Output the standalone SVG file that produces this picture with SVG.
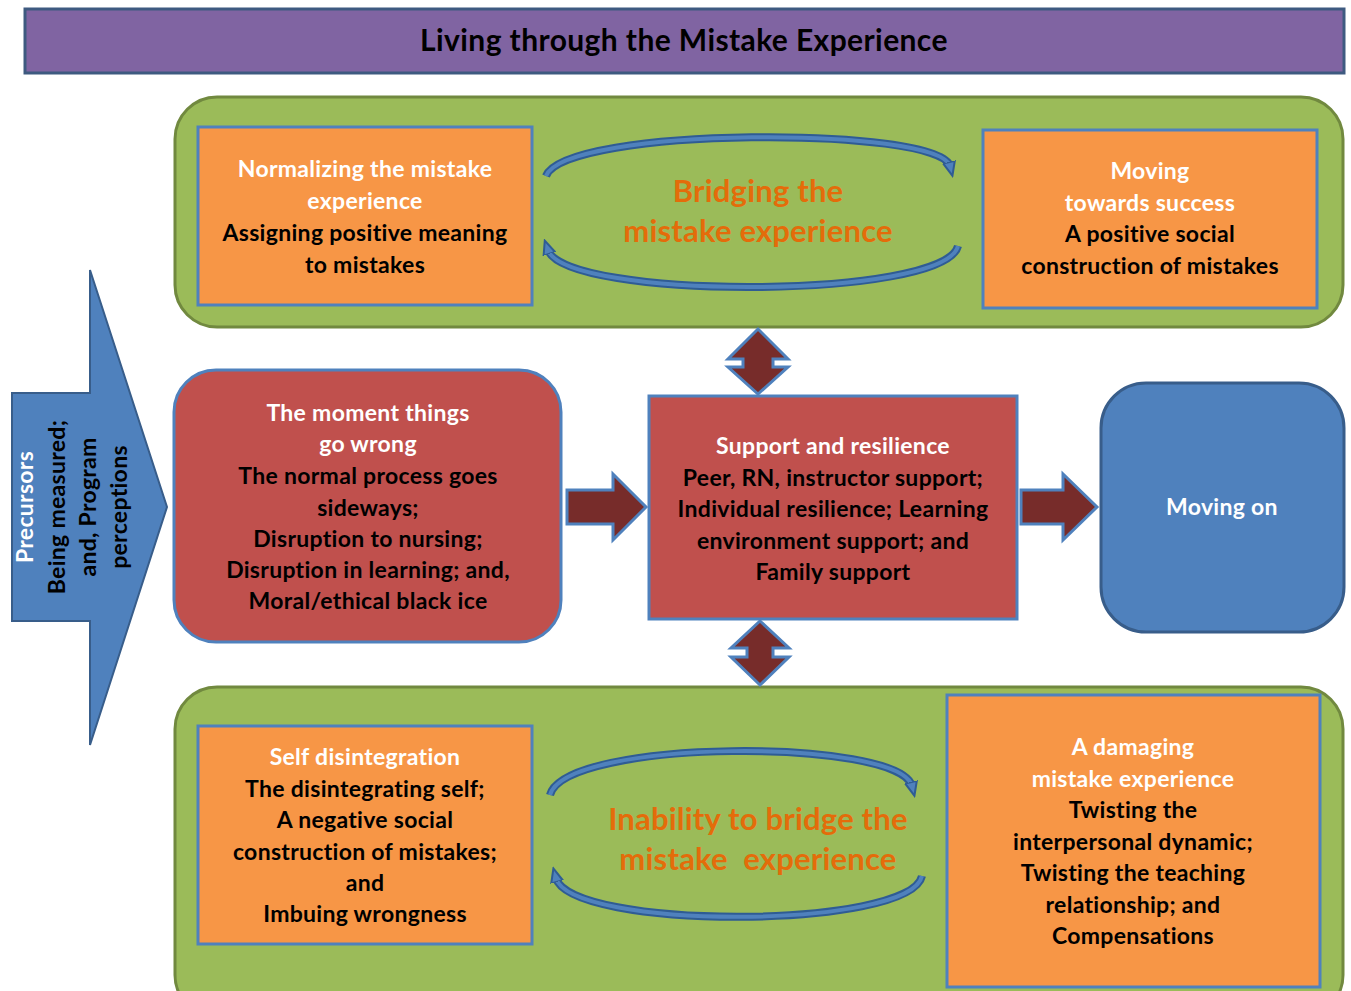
<svg xmlns="http://www.w3.org/2000/svg" width="1351" height="991" viewBox="0 0 1351 991">
  <style>
    .t { font-family: Lato, "Open Sans", "Liberation Sans", sans-serif; font-weight: 700; font-size: 23px; letter-spacing: 0.3px; text-anchor: middle; }
    .w { fill: #ffffff; }
    .k { fill: #000000; }
    .orange { fill: #E46C0A; font-size: 31px; letter-spacing: 0.2px; }
    .panel { fill: #9BBB59; stroke: #71893F; stroke-width: 3; }
    .obox { fill: #F79646; stroke: #4F81BD; stroke-width: 3; }
    .rbox { fill: #C0504D; stroke: #4F81BD; stroke-width: 3; }
    .darr { fill: #772C2A; stroke: #4F81BD; stroke-width: 3; stroke-linejoin: miter; }
    .arcOut { fill: none; stroke: #2F5C94; stroke-width: 8; stroke-linecap: butt; }
    .arcIn { fill: none; stroke: #4F81BD; stroke-width: 4; stroke-linecap: butt; }
  </style>
  <defs>
    <marker id="head" markerUnits="userSpaceOnUse" viewBox="0 0 16 16" refX="4" refY="8" markerWidth="16" markerHeight="16" orient="auto-start-reverse">
      <path d="M0 2 L14 8 L0 14 Z" fill="#4F81BD" stroke="#2F5C94" stroke-width="2"/>
    </marker>
  </defs>

  <!-- title bar -->
  <g id="title">
    <rect x="25" y="9" width="1319" height="64" fill="#8064A2" stroke="#3E5A80" stroke-width="3"/>
    <text x="684" y="51" class="t k" style="font-size:30px;letter-spacing:0.4px">Living through the Mistake Experience</text>
  </g>

  <!-- top band: bridging -->
  <g id="bridging-panel">
    <rect x="175" y="97" width="1168" height="230" rx="42" class="panel"/>
  </g>

  <g id="normalizing">
    <rect x="198" y="127" width="334" height="178" class="obox"/>
    <text class="t w" x="365" y="177">Normalizing the mistake</text>
    <text class="t w" x="365" y="209">experience</text>
    <text class="t k" x="365" y="241">Assigning positive meaning</text>
    <text class="t k" x="365" y="273">to mistakes</text>
  </g>

  <g id="moving-towards">
    <rect x="983" y="130" width="334" height="178" class="obox"/>
    <text class="t w" x="1150" y="179">Moving</text>
    <text class="t w" x="1150" y="211">towards success</text>
    <text class="t k" x="1150" y="242">A positive social</text>
    <text class="t k" x="1150" y="274">construction of mistakes</text>
  </g>

  <g id="bridging-label">
    <text class="t orange" x="758" y="202">Bridging the</text>
    <text class="t orange" x="758" y="242">mistake experience</text>
  </g>

  <!-- precursors arrow -->
  <g id="precursors">
    <polygon points="12,393 90,393 90,270 167,507 90,745 90,621 12,621" fill="#4F81BD" stroke="#385D8A" stroke-width="2"/>
    <g transform="translate(0,507) rotate(-90)">
      <text class="t w" x="0" y="33">Precursors</text>
      <text class="t k" x="0" y="65">Being measured;</text>
      <text class="t k" x="0" y="96">and, Program</text>
      <text class="t k" x="0" y="127">perceptions</text>
    </g>
  </g>

  <g id="moment">
    <rect x="174" y="370" width="387" height="272" rx="42" class="rbox"/>
    <text class="t w" x="368" y="421">The moment things</text>
    <text class="t w" x="368" y="452">go wrong</text>
    <text class="t k" x="368" y="484">The normal process goes</text>
    <text class="t k" x="368" y="516">sideways;</text>
    <text class="t k" x="368" y="547">Disruption to nursing;</text>
    <text class="t k" x="368" y="578">Disruption in learning; and,</text>
    <text class="t k" x="368" y="609">Moral/ethical black ice</text>
  </g>

  <g id="support">
    <rect x="649" y="396" width="368" height="223" class="rbox"/>
    <text class="t w" x="833" y="454">Support and resilience</text>
    <text class="t k" x="833" y="486">Peer, RN, instructor support;</text>
    <text class="t k" x="833" y="517">Individual resilience; Learning</text>
    <text class="t k" x="833" y="549">environment support; and</text>
    <text class="t k" x="833" y="580">Family support</text>
  </g>

  <g id="moving-on">
    <rect x="1101" y="383" width="243" height="249" rx="45" fill="#4F81BD" stroke="#385D8A" stroke-width="3"/>
    <text class="t w" x="1222" y="515">Moving on</text>
  </g>

  <!-- bottom band: inability to bridge -->
  <g id="inability-panel">
    <rect x="175" y="687" width="1168" height="330" rx="42" class="panel"/>
  </g>

  <g id="self-disintegration">
    <rect x="198" y="726" width="334" height="218" class="obox"/>
    <text class="t w" x="365" y="765">Self disintegration</text>
    <text class="t k" x="365" y="797">The disintegrating self;</text>
    <text class="t k" x="365" y="828">A negative social</text>
    <text class="t k" x="365" y="860">construction of mistakes;</text>
    <text class="t k" x="365" y="891">and</text>
    <text class="t k" x="365" y="922">Imbuing wrongness</text>
  </g>

  <g id="damaging">
    <rect x="947" y="695" width="373" height="292" class="obox"/>
    <text class="t w" x="1133" y="755">A damaging</text>
    <text class="t w" x="1133" y="787">mistake experience</text>
    <text class="t k" x="1133" y="818">Twisting the</text>
    <text class="t k" x="1133" y="850">interpersonal dynamic;</text>
    <text class="t k" x="1133" y="881">Twisting the teaching</text>
    <text class="t k" x="1133" y="913">relationship; and</text>
    <text class="t k" x="1133" y="944">Compensations</text>
  </g>

  <g id="inability-label">
    <text class="t orange" x="758" y="830">Inability to bridge the</text>
    <text class="t orange" x="758" y="870" xml:space="preserve">mistake  experience</text>
  </g>

  <!-- connectors -->
  <g id="connectors">
    <!-- cycling arcs, top band -->
    <path class="arcOut" d="M546 176 C565 126 940 126 950 166"/>
    <path class="arcIn" d="M546 176 C565 126 940 126 950 166" marker-end="url(#head)"/>
    <path class="arcOut" d="M548 250 C565 300 945 300 958 246"/>
    <path class="arcIn" d="M548 250 C565 300 945 300 958 246" marker-start="url(#head)"/>
    <!-- cycling arcs, bottom band -->
    <path class="arcOut" d="M550 795 C565 738 900 738 912 786"/>
    <path class="arcIn" d="M550 795 C565 738 900 738 912 786" marker-end="url(#head)"/>
    <path class="arcOut" d="M556 878 C570 930 910 930 922 876"/>
    <path class="arcIn" d="M556 878 C570 930 910 930 922 876" marker-start="url(#head)"/>

    <!-- two-way arrows -->
    <polygon class="darr" points="758,329 788,359 773,359 773,367 788,367 758,394 728,367 743,367 743,359 728,359"/>
    <polygon class="darr" points="760,621 789,648 773,648 773,657 789,657 760,685 731,657 747,657 747,648 731,648"/>

    <!-- forward arrows -->
    <polygon class="darr" points="567,490 613,490 613,474 646,507 613,540 613,524 567,524"/>
    <polygon class="darr" points="1021,490 1063,490 1063,474 1097,507 1063,540 1063,524 1021,524"/>
  </g>
</svg>
